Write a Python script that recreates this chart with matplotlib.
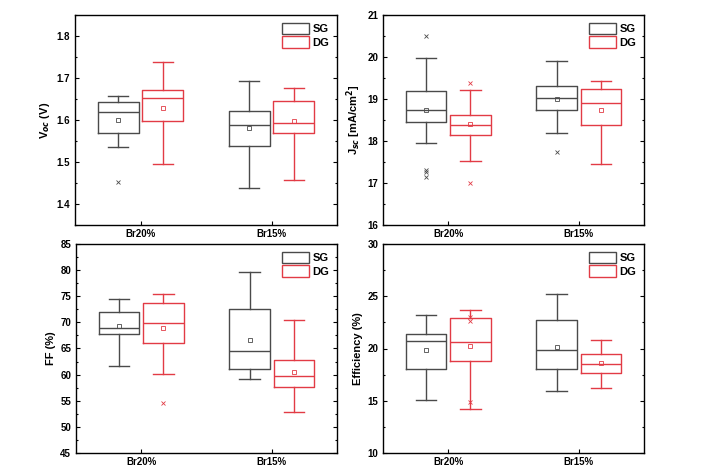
import matplotlib
matplotlib.use("Agg")
import matplotlib.pyplot as plt
from matplotlib.patches import Patch
from matplotlib.ticker import AutoMinorLocator

plt.rcParams['font.family'] = ['Liberation Sans', 'DejaVu Sans']
plt.rcParams['font.weight'] = 'bold'

categories = ["Br20%", "Br15%"]
groups = ["SG", "DG"]

# stats per group per category: [whislo, q1, med, q3, whishi, mean]
voc_SG = [[1.535, 1.569, 1.619, 1.642, 1.657, 1.601], [1.437, 1.537, 1.587, 1.622, 1.693, 1.580]]
voc_DG = [[1.496, 1.598, 1.653, 1.672, 1.737, 1.629], [1.457, 1.569, 1.594, 1.645, 1.677, 1.598]]
voc_SG_out = [[1.453], []]
voc_DG_out = [[], []]

jsc_SG = [[17.95, 18.46, 18.75, 19.20, 19.965, 18.73], [18.18, 18.75, 19.03, 19.32, 19.90, 18.99]]
jsc_DG = [[17.52, 18.15, 18.38, 18.62, 19.22, 18.41], [17.45, 18.39, 18.91, 19.23, 19.42, 18.73]]
jsc_SG_out = [[20.51, 17.32, 17.27, 17.15], [17.73]]
jsc_DG_out = [[19.39, 16.99], []]

ff_SG = [[61.6, 67.7, 69.0, 72.0, 74.5, 69.3], [59.1, 61.0, 64.5, 72.5, 79.6, 66.6]]
ff_DG = [[60.2, 66.0, 69.9, 73.8, 75.5, 69.0], [52.9, 57.7, 59.8, 62.8, 70.4, 60.5]]
ff_SG_out = [[], []]
ff_DG_out = [[54.5], []]

eff_SG = [[15.03, 18.03, 20.70, 21.34, 23.18, 19.81], [15.92, 18.03, 19.84, 22.71, 25.19, 20.13]]
eff_DG = [[14.20, 18.79, 20.64, 22.96, 23.69, 20.25], [16.24, 17.68, 18.50, 19.52, 20.80, 18.66]]
eff_SG_out = [[], []]
eff_DG_out = [[22.99, 22.64, 14.87], []]

panels = [
    ("V$_{oc}$ (V)", (1.35, 1.85), [1.4, 1.5, 1.6, 1.7, 1.8], voc_SG, voc_DG, voc_SG_out, voc_DG_out),
    ("J$_{sc}$ [mA/cm$^2$]", (16, 21), [16, 17, 18, 19, 20, 21], jsc_SG, jsc_DG, jsc_SG_out, jsc_DG_out),
    ("FF (%)", (45, 85), [45, 50, 55, 60, 65, 70, 75, 80, 85], ff_SG, ff_DG, ff_SG_out, ff_DG_out),
    ("Efficiency (%)", (10, 30), [10, 15, 20, 25, 30], eff_SG, eff_DG, eff_SG_out, eff_DG_out),
]

colors = {"SG": "#4a4a4a", "DG": "#e23b45"}

W, H = 703, 476
fig = plt.figure(figsize=(W / 100, H / 100), dpi=100)
rects = [(75, 15, 337, 225), (383, 15, 644, 225), (76, 244, 337, 453), (383, 244, 644, 453)]

def stats_list(vals, outs):
    res = []
    for v, o in zip(vals, outs):
        res.append(dict(whislo=v[0], q1=v[1], med=v[2], q3=v[3], whishi=v[4], mean=v[5], fliers=o))
    return res

for (label, ylim, yticks, sg, dg, sgo, dgo), (x0, y0, x1, y1) in zip(panels, rects):
    ax = fig.add_axes([x0 / W, 1 - y1 / H, (x1 - x0) / W, (y1 - y0) / H])
    base = [1, 2]
    for name, vals, outs, off in (("SG", sg, sgo, -0.17), ("DG", dg, dgo, 0.17)):
        c = colors[name]
        ax.bxp(stats_list(vals, outs), positions=[b + off for b in base], widths=0.31,
               showmeans=True, showfliers=True, patch_artist=False,
               boxprops=dict(color=c, lw=1.0),
               medianprops=dict(color=c, lw=1.0),
               whiskerprops=dict(color=c, lw=1.0),
               capprops=dict(color=c, lw=1.0),
               capwidths=0.155,
               meanprops=dict(marker='s', markersize=3, markerfacecolor='none',
                              markeredgecolor=c, markeredgewidth=0.6),
               flierprops=dict(marker='x', markersize=3, markeredgecolor=c,
                               markeredgewidth=0.6))
    ax.set_xlim(0.5, 2.5)
    ax.set_xticks(base)
    ax.set_xticklabels(categories, fontsize=7, fontweight='bold')
    ax.set_ylim(*ylim)
    ax.set_yticks(yticks)
    if label.startswith("V"):
        ax.set_yticklabels([f"{t:.1f}" for t in yticks])
    ax.yaxis.set_minor_locator(AutoMinorLocator(2))
    ax.tick_params(axis='both', which='both', direction='in', labelsize=7, width=0.8)
    ax.tick_params(axis='y', which='both', right=True)
    ax.tick_params(axis='y', which='major', length=3)
    ax.tick_params(axis='y', which='minor', length=1.5)
    ax.tick_params(axis='x', which='major', length=3, pad=3)
    for lab in ax.get_yticklabels() + ax.get_xticklabels():
        lab.set_fontweight('bold')
    for s in ax.spines.values():
        s.set_linewidth(1.0)
    ax.set_ylabel(label, fontsize=8, fontweight='bold', labelpad=3)
    handles = [Patch(facecolor='white', edgecolor=colors[g], lw=1.0, label=g) for g in groups]
    leg = ax.legend(handles=handles, loc='upper right', frameon=False, fontsize=8,
                    handlelength=2.4, handleheight=1.2, handletextpad=0.3,
                    labelspacing=0.2, borderaxespad=0.3)
    for t in leg.get_texts():
        t.set_fontweight('bold')

fig.savefig("out.png", dpi=100)
